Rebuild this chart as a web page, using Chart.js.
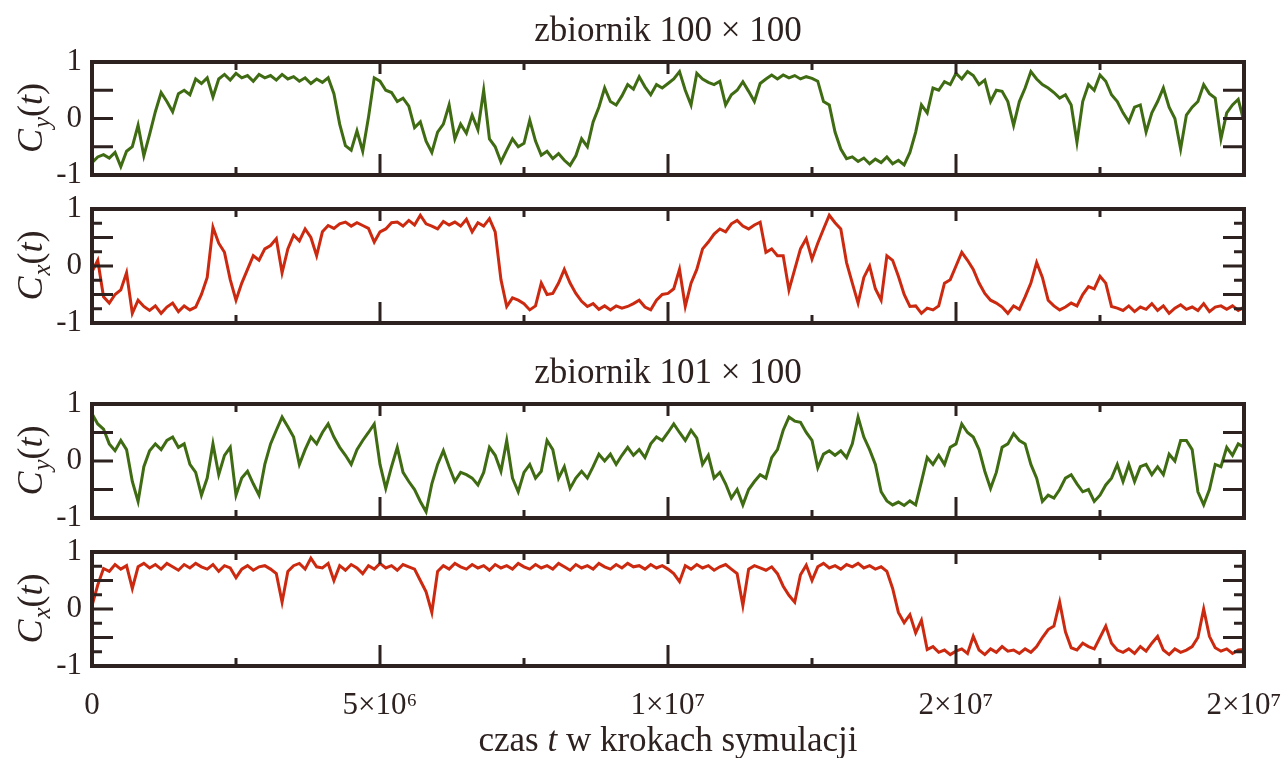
<!DOCTYPE html>
<html>
<head>
<meta charset="utf-8">
<script src="https://cdn.jsdelivr.net/npm/chart.js@4.4.1/dist/chart.umd.min.js"></script>
<style>
html, body { margin: 0; padding: 0; background: #fff; }
#wrap { position: relative; width: 1287px; height: 758px; overflow: hidden; }
#wrap canvas { position: absolute; left: 0; top: 0; }
</style>
</head>
<body>
<div id="wrap">
  <canvas id="p1" width="1287" height="758"></canvas>
  <canvas id="p2" width="1287" height="758"></canvas>
  <canvas id="p3" width="1287" height="758"></canvas>
  <canvas id="p4" width="1287" height="758"></canvas>
</div>
<script>
// samples every 1e5 steps, 0 .. 2e7
const timeStep = 1e5;

// zbiornik 100 x 100, C_y(t)
const cy100 = [-0.78,-0.68,-0.64,-0.7,-0.6,-0.85,-0.58,-0.5,-0.12,-0.66,
  -0.28,0.12,0.46,0.3,0.12,0.44,0.5,0.42,0.7,0.62,
  0.72,0.38,0.7,0.78,0.68,0.8,0.72,0.76,0.66,0.78,
  0.72,0.76,0.68,0.78,0.7,0.74,0.66,0.72,0.62,0.7,
  0.64,0.72,0.44,-0.1,-0.48,-0.56,-0.22,-0.58,0.02,0.72,
  0.66,0.5,0.46,0.3,0.36,0.22,-0.16,-0.06,-0.4,-0.6,
  -0.24,-0.1,0.24,-0.36,-0.1,-0.26,0.06,-0.2,0.5,-0.36,
  -0.5,-0.77,-0.56,-0.36,-0.5,-0.44,-0.03,-0.4,-0.65,-0.58,
  -0.71,-0.62,-0.74,-0.83,-0.66,-0.36,-0.5,-0.06,0.2,0.54,
  0.3,0.24,0.4,0.6,0.52,0.74,0.56,0.42,0.6,0.54,
  0.62,0.7,0.83,0.5,0.24,0.8,0.7,0.64,0.6,0.66,
  0.24,0.42,0.5,0.65,0.48,0.3,0.62,0.7,0.77,0.7,
  0.77,0.72,0.76,0.7,0.74,0.71,0.66,0.3,0.24,-0.24,
  -0.54,-0.71,-0.68,-0.76,-0.7,-0.8,-0.72,-0.78,-0.68,-0.8,
  -0.74,-0.82,-0.6,-0.24,0.24,0.1,0.54,0.5,0.65,0.6,
  0.8,0.7,0.83,0.76,0.6,0.68,0.3,0.5,0.48,0.3,
  -0.12,0.3,0.54,0.83,0.7,0.6,0.54,0.46,0.36,0.42,
  0.24,-0.42,0.3,0.6,0.5,0.77,0.66,0.42,0.3,0.1,
  -0.06,0.2,0.24,-0.24,0.1,0.3,0.54,0.2,0.0,-0.54,
  0.06,0.2,0.3,0.6,0.44,0.36,-0.36,0.1,0.24,0.34,
  -0.06];

// zbiornik 100 x 100, C_x(t)
const cx100 = [-0.1,0.1,-0.54,-0.65,-0.5,-0.42,-0.12,-0.83,-0.6,-0.71,
  -0.78,-0.7,-0.83,-0.72,-0.65,-0.8,-0.7,-0.77,-0.72,-0.5,
  -0.2,0.68,0.4,0.24,-0.24,-0.6,-0.3,-0.06,0.18,0.1,
  0.3,0.36,0.48,-0.12,0.3,0.54,0.44,0.65,0.5,0.18,
  0.6,0.71,0.66,0.74,0.77,0.7,0.76,0.71,0.66,0.42,
  0.6,0.65,0.76,0.77,0.7,0.8,0.72,0.89,0.74,0.7,
  0.65,0.78,0.72,0.77,0.7,0.82,0.6,0.76,0.7,0.83,
  0.6,-0.24,-0.71,-0.56,-0.6,-0.66,-0.77,-0.7,-0.3,-0.5,
  -0.48,-0.3,-0.06,-0.3,-0.48,-0.62,-0.71,-0.66,-0.76,-0.7,
  -0.77,-0.7,-0.74,-0.71,-0.66,-0.6,-0.72,-0.77,-0.6,-0.5,
  -0.48,-0.4,-0.06,-0.71,-0.3,-0.06,0.3,0.42,0.56,0.65,
  0.6,0.74,0.8,0.7,0.65,0.72,0.77,0.24,0.3,0.18,
  0.18,-0.42,-0.06,0.3,0.48,0.12,0.4,0.65,0.89,0.76,
  0.65,0.06,-0.3,-0.65,-0.2,0.0,-0.4,-0.6,0.18,0.1,
  -0.18,-0.5,-0.71,-0.7,-0.83,-0.74,-0.77,-0.7,-0.3,-0.24,
  0.0,0.24,0.1,-0.06,-0.3,-0.48,-0.6,-0.65,-0.72,-0.83,
  -0.7,-0.76,-0.54,-0.3,0.06,-0.2,-0.6,-0.7,-0.77,-0.72,
  -0.65,-0.7,-0.5,-0.36,-0.4,-0.18,-0.3,-0.71,-0.74,-0.78,
  -0.7,-0.8,-0.72,-0.76,-0.66,-0.78,-0.7,-0.83,-0.74,-0.68,
  -0.76,-0.72,-0.78,-0.66,-0.8,-0.72,-0.7,-0.76,-0.7,-0.78,
  -0.72];

// zbiornik 101 x 100, C_y(t)
const cy101 = [0.83,0.65,0.56,0.3,0.18,0.36,0.2,-0.36,-0.71,-0.1,
  0.18,0.3,0.2,0.36,0.42,0.24,0.3,-0.06,-0.2,-0.6,
  -0.3,0.3,-0.24,0.1,0.24,-0.6,-0.3,-0.18,-0.4,-0.6,
  -0.06,0.3,0.54,0.77,0.6,0.42,-0.06,0.2,0.42,0.3,
  0.5,0.65,0.42,0.24,0.1,-0.06,0.2,0.36,0.5,0.65,
  -0.06,-0.48,-0.1,0.24,-0.2,-0.36,-0.5,-0.71,-0.89,-0.4,
  -0.06,0.18,-0.1,-0.36,-0.2,-0.24,-0.3,-0.42,-0.2,0.24,
  0.1,-0.18,0.36,-0.3,-0.54,-0.2,-0.06,-0.3,-0.18,0.36,
  0.2,-0.3,-0.1,-0.48,-0.3,-0.18,-0.3,-0.1,0.12,0.0,
  0.12,-0.06,0.1,0.24,0.1,0.2,0.06,0.3,0.42,0.36,
  0.5,0.65,0.5,0.36,0.54,0.4,-0.06,0.1,-0.3,-0.2,
  -0.4,-0.65,-0.5,-0.77,-0.5,-0.36,-0.24,-0.3,0.06,0.2,
  0.54,0.77,0.7,0.68,0.5,0.36,-0.12,0.12,0.18,0.1,
  0.18,0.06,0.3,0.77,0.42,0.2,-0.06,-0.54,-0.7,-0.77,
  -0.72,-0.78,-0.7,-0.77,-0.36,0.06,-0.06,0.1,-0.06,0.24,
  0.3,0.65,0.5,0.42,0.2,-0.18,-0.48,-0.2,0.24,0.3,
  0.48,0.36,0.3,-0.06,-0.3,-0.71,-0.6,-0.65,-0.5,-0.3,
  -0.24,-0.4,-0.54,-0.5,-0.71,-0.6,-0.42,-0.3,-0.06,-0.36,
  -0.06,-0.36,-0.1,-0.06,-0.24,-0.1,-0.24,0.12,0.0,0.36,
  0.36,0.2,-0.54,-0.77,-0.5,-0.06,-0.1,0.24,0.1,0.3,
  0.24];

// zbiornik 101 x 100, C_x(t)
const cx101 = [0.06,0.42,0.71,0.66,0.78,0.7,0.76,0.36,0.74,0.8,
  0.72,0.78,0.7,0.8,0.74,0.68,0.78,0.72,0.8,0.74,
  0.7,0.78,0.66,0.76,0.72,0.55,0.7,0.76,0.68,0.74,
  0.76,0.7,0.62,0.12,0.66,0.76,0.8,0.7,0.89,0.74,
  0.72,0.8,0.5,0.76,0.68,0.78,0.72,0.62,0.76,0.7,
  0.8,0.72,0.76,0.68,0.78,0.74,0.7,0.5,0.3,-0.06,
  0.66,0.76,0.7,0.8,0.74,0.7,0.78,0.72,0.76,0.68,
  0.78,0.72,0.76,0.7,0.8,0.74,0.7,0.78,0.72,0.76,
  0.7,0.8,0.74,0.68,0.78,0.72,0.76,0.7,0.8,0.74,
  0.7,0.78,0.72,0.8,0.74,0.76,0.7,0.78,0.72,0.76,
  0.7,0.62,0.48,0.76,0.7,0.78,0.72,0.76,0.68,0.74,
  0.78,0.7,0.62,0.06,0.7,0.76,0.72,0.68,0.74,0.62,
  0.4,0.24,0.12,0.6,0.77,0.5,0.74,0.8,0.72,0.76,
  0.7,0.78,0.74,0.8,0.72,0.76,0.7,0.74,0.66,0.36,
  -0.06,-0.24,-0.1,-0.42,-0.2,-0.71,-0.66,-0.76,-0.72,-0.8,
  -0.74,-0.7,-0.78,-0.48,-0.72,-0.8,-0.7,-0.76,-0.66,-0.74,
  -0.72,-0.78,-0.7,-0.76,-0.66,-0.5,-0.36,-0.3,0.12,-0.4,
  -0.68,-0.72,-0.6,-0.66,-0.7,-0.5,-0.3,-0.6,-0.72,-0.76,
  -0.7,-0.78,-0.66,-0.74,-0.6,-0.48,-0.72,-0.8,-0.7,-0.76,
  -0.72,-0.66,-0.5,0.0,-0.48,-0.68,-0.74,-0.7,-0.78,-0.72,
  -0.71];

const xTicks = [0, 2.5e6, 5e6, 7.5e6, 1e7, 1.25e7, 1.5e7, 1.75e7, 2e7];
const xMajor = [0, 5e6, 1e7, 1.5e7, 2e7];
const xTickLabels = ['0', '5×10⁶', '1×10⁷', '2×10⁷', '2×10⁷'];
const yTicksCoarse = [-0.5, 0, 0.5];
const yTicksFine = [-0.75, -0.5, -0.25, 0, 0.25, 0.5, 0.75];
const yLong = [-0.5, 0, 0.5];
const panelTitles = ['zbiornik 100 × 100', 'zbiornik 101 × 100'];

const ink = '#2e2220';
const green = '#3f6b12';
const red = '#cc2a10';
const serif = '"Liberation Serif", "DejaVu Serif", serif';

const framePlugin = {
  id: 'frame',
  afterDatasetsDraw(chart, args, opts) {
    const { ctx, chartArea: a, scales: { x, y } } = chart;
    ctx.save();
    ctx.strokeStyle = ink;
    ctx.lineWidth = 3;
    ctx.beginPath();
    xTicks.forEach(v => {
      if (v === 0 || v === 2e7) return;
      const px = x.getPixelForValue(v);
      const major = xMajor.includes(v);
      ctx.moveTo(px, a.bottom); ctx.lineTo(px, a.bottom - (major ? 21 : 8));
      ctx.moveTo(px, a.top); ctx.lineTo(px, a.top + (major ? 12 : 8));
    });
    opts.yTicks.forEach(v => {
      const py = y.getPixelForValue(v);
      const len = yLong.includes(v) ? 21 : 10;
      ctx.moveTo(a.left, py); ctx.lineTo(a.left + len, py);
      ctx.moveTo(a.right, py); ctx.lineTo(a.right - len, py);
    });
    ctx.stroke();
    ctx.lineWidth = 4;
    ctx.strokeRect(a.left, a.top, a.right - a.left, a.bottom - a.top);

    // y axis title C_?(t)
    const size = 36;
    const parts = [
      { t: 'C', f: 'italic ' + size + 'px ' + serif, dy: 0 },
      { t: opts.sub, f: 'italic ' + Math.round(size * 0.7) + 'px ' + serif, dy: 8 },
      { t: '(', f: size + 'px ' + serif, dy: 0 },
      { t: 't', f: 'italic ' + size + 'px ' + serif, dy: 0 },
      { t: ')', f: size + 'px ' + serif, dy: 0 }
    ];
    let total = 0;
    parts.forEach(p => { ctx.font = p.f; p.w = ctx.measureText(p.t).width; total += p.w; });
    ctx.translate(42, (a.top + a.bottom) / 2);
    ctx.rotate(-Math.PI / 2);
    ctx.fillStyle = ink;
    ctx.textBaseline = 'alphabetic';
    let cx = -total / 2;
    parts.forEach(p => {
      ctx.font = p.f;
      ctx.fillText(p.t, cx, p.dy);
      cx += p.w + (p.t === 'C' ? 1 : 0);
    });
    ctx.restore();

    ctx.save();
    ctx.fillStyle = ink;
    if (opts.title) {
      ctx.font = '35px ' + serif;
      ctx.textAlign = 'center';
      ctx.textBaseline = 'alphabetic';
      ctx.fillText(opts.title, (a.left + a.right) / 2, a.top - 21);
    }
    if (opts.xTitle) {
      // czas t w krokach symulacji
      const segs = [
        { t: 'czas ', f: '35px ' + serif },
        { t: 't', f: 'italic 35px ' + serif },
        { t: ' w krokach symulacji', f: '35px ' + serif }
      ];
      let w = 0;
      segs.forEach(s => { ctx.font = s.f; s.w = ctx.measureText(s.t).width; w += s.w; });
      let sx = (a.left + a.right) / 2 - w / 2;
      ctx.textBaseline = 'alphabetic';
      segs.forEach(s => { ctx.font = s.f; ctx.fillText(s.t, sx, 751); sx += s.w; });
    }
    ctx.restore();
  }
};

function makePanel(id, values, color, top, bottom, sub, yTicks, title, showX) {
  const points = values.map((v, i) => ({ x: i * timeStep, y: v }));
  const xHeight = 50;
  return new Chart(document.getElementById(id), {
    type: 'line',
    data: {
      datasets: [{
        data: points,
        borderColor: color,
        borderWidth: 3,
        pointRadius: 0,
        tension: 0
      }]
    },
    options: {
      responsive: false,
      animation: false,
      events: [],
      layout: {
        padding: {
          left: 0,
          right: 1287 - 1244,
          top: top,
          bottom: showX ? 758 - bottom - xHeight : 758 - bottom
        }
      },
      plugins: {
        legend: { display: false },
        tooltip: { enabled: false },
        frame: { sub: sub, yTicks: yTicks, title: title, xTitle: showX }
      },
      scales: {
        x: {
          type: 'linear',
          min: 0,
          max: 2e7,
          display: showX,
          grid: { display: false, drawTicks: false },
          border: { display: false },
          afterBuildTicks: s => { s.ticks = xTicks.map(v => ({ value: v })); },
          afterFit: s => {
            if (showX) s.height = xHeight;
            s.paddingLeft = 0;
            s.paddingRight = 0;
          },
          ticks: {
            autoSkip: false,
            maxRotation: 0,
            padding: 21,
            color: ink,
            font: { family: serif, size: 31 },
            callback: v => {
              const k = xMajor.indexOf(v);
              return k >= 0 ? xTickLabels[k] : '';
            }
          }
        },
        y: {
          min: -1,
          max: 1,
          grid: { display: false, drawTicks: false },
          border: { display: false },
          afterFit: s => { s.width = 92; },
          ticks: {
            stepSize: 1,
            padding: 10,
            color: ink,
            font: { family: serif, size: 31 },
            callback: v => (v === -1 ? '-1' : String(v))
          }
        }
      }
    },
    plugins: [framePlugin]
  });
}

makePanel('p1', cy100, green, 62, 175, 'y', yTicksCoarse, panelTitles[0], false);
makePanel('p2', cx100, red, 209, 323, 'x', yTicksFine, null, false);
makePanel('p3', cy101, green, 404, 518, 'y', yTicksCoarse, panelTitles[1], false);
makePanel('p4', cx101, red, 552, 666, 'x', yTicksFine, null, true);
</script>
</body>
</html>
